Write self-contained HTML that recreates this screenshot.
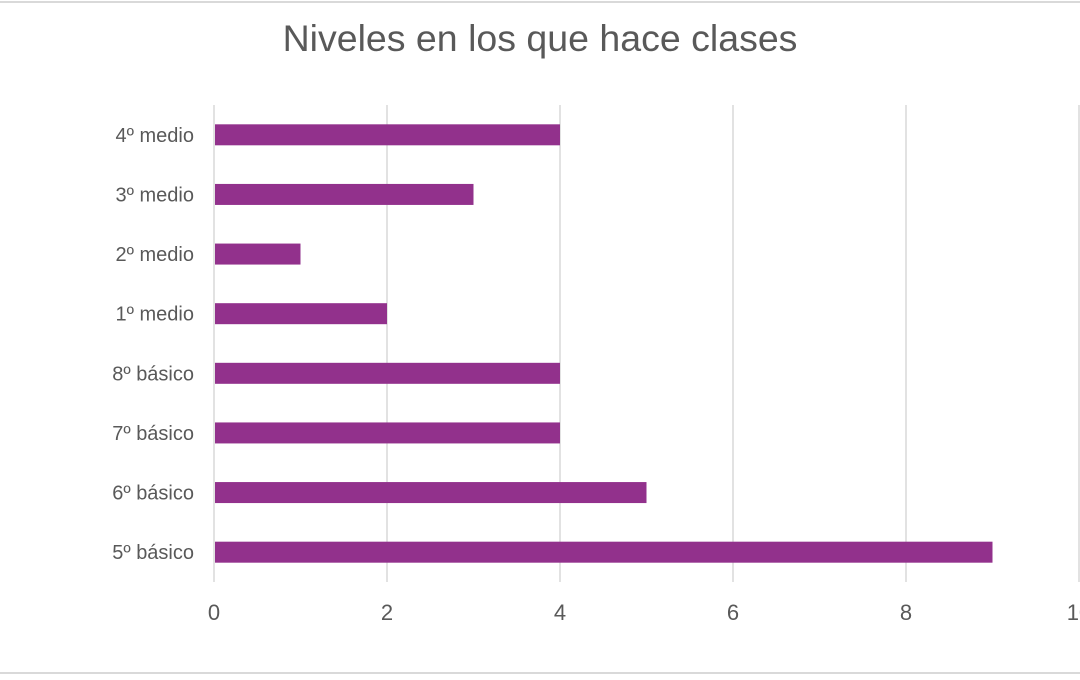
<!DOCTYPE html>
<html><head><meta charset="utf-8"><style>
body{margin:0;background:#fff;width:1080px;height:675px;overflow:hidden;font-family:"Liberation Sans",sans-serif}
</style></head><body>
<svg width="1080" height="675">
<line x1="0" y1="2" x2="1080" y2="2" stroke="#d9d9d9" stroke-width="2"/>
<line x1="0" y1="673" x2="1080" y2="673" stroke="#d9d9d9" stroke-width="2"/>
<text x="540" y="51" text-anchor="middle" font-size="37.5" fill="#595959">Niveles en los que hace clases</text>
<g id="grid"></g><g id="bars"></g><g id="labels"></g>
</svg>
<script>
const categories=["4º medio","3º medio","2º medio","1º medio","8º básico","7º básico","6º básico","5º básico"];
const values=[4,3,1,2,4,4,5,9];
const ticks=[0,2,4,6,8,10];
const NS="http://www.w3.org/2000/svg";
const plotX0=214,unitW=86.5,plotTop=105,plotBot=582,bandH=(plotBot-plotTop)/categories.length,barH=21;
const X=v=>plotX0+v*unitW, Y=i=>plotTop+bandH*(i+0.5);
function mk(t,a,p){const e=document.createElementNS(NS,t);for(const k in a)e.setAttribute(k,a[k]);document.getElementById(p).appendChild(e);return e;}
ticks.forEach(t=>{
 const l=mk('line',{x1:X(t),x2:X(t),y1:plotTop,y2:plotBot,stroke:'#d9d9d9','stroke-width':1.5},'grid');
 
 
 const tx=mk('text',{x:X(t),y:620,'text-anchor':'middle','font-size':22,fill:'#595959'},'labels');
 tx.textContent=t;
 
 
});
categories.forEach((c,i)=>{
 const r=mk('rect',{x:X(0)+1,y:Y(i)-barH/2,width:X(values[i])-X(0)-1,height:barH,fill:'#92318c'},'bars');
 
 
 const t=mk('text',{x:194,y:Y(i)+7,'text-anchor':'end','font-size':20,fill:'#595959'},'labels');
 t.textContent=c;
 
 
});
</script>
</body></html>
